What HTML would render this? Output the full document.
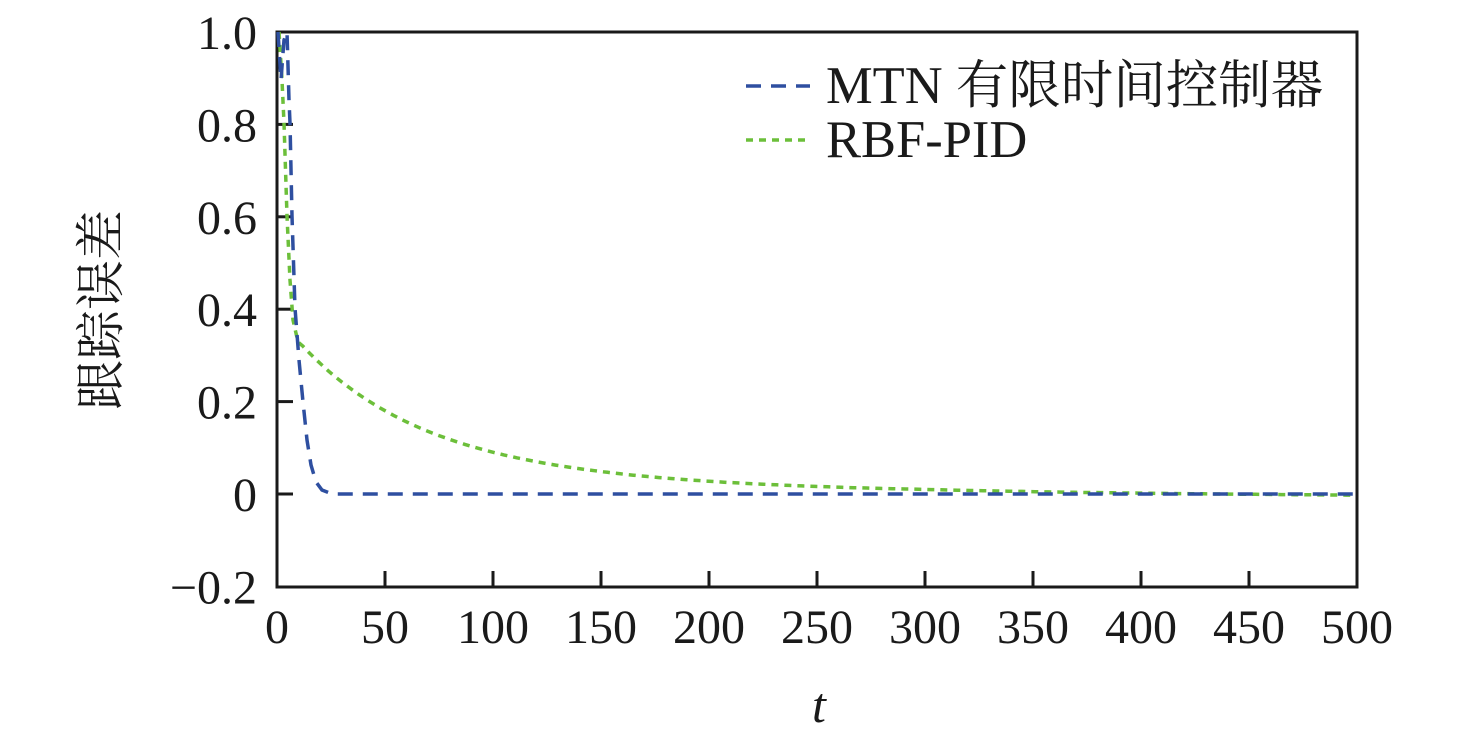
<!DOCTYPE html>
<html><head><meta charset="utf-8"><style>
html,body{margin:0;padding:0;background:#fff;}
svg{display:block;}
text{font-family:"Liberation Serif","Noto Serif CJK SC",serif;fill:#1a1a1a;}
</style></head><body>
<svg id="s" width="1476" height="736" viewBox="0 0 1476 736">
<rect x="277" y="32" width="1080" height="555" fill="none" stroke="#1a1a1a" stroke-width="3"/>
<g stroke="#1a1a1a" stroke-width="3" id="ticks"></g>
<g font-size="48" id="labels"></g>
<path id="g" fill="none" stroke="#6cbf3a" stroke-width="3.5" stroke-dasharray="7,6"/>
<path id="b" fill="none" stroke="#2e4fa0" stroke-width="3.5" stroke-dasharray="15,10"/>
<line x1="746" y1="86" x2="810" y2="86" stroke="#2e4fa0" stroke-width="3.5" stroke-dasharray="15,10"/>
<line x1="746" y1="140" x2="810" y2="140" stroke="#6cbf3a" stroke-width="3.5" stroke-dasharray="7,6"/>
<text x="826" y="103" font-size="52.5">MTN 有限时间控制器</text>
<text x="826" y="157" font-size="52.5">RBF-PID</text>
<text transform="translate(118,310) rotate(-90)" font-size="50" text-anchor="middle">跟踪误差</text>
<text x="812" y="722" font-size="50" font-style="italic">t</text>
</svg>
<script>
var X=t=>277+t*2.16, Y=v=>494-v*462;
var tk=document.getElementById('ticks'),lb=document.getElementById('labels'),h='',l='';
for(var i=0;i<=10;i++){var x=X(i*50);h+=`<line x1="${x}" y1="587" x2="${x}" y2="${i==0||i==10?587:571}"/>`;l+=`<text x="${x}" y="643" text-anchor="middle">${i*50}</text>`;}
var yl=['−0.2','0','0.2','0.4','0.6','0.8','1.0'];
for(var j=0;j<7;j++){var v=-0.2+j*0.2,y=Y(v);if(j>0&&j<6)h+=`<line x1="277" y1="${y}" x2="293" y2="${y}"/>`;l+=`<text x="257" y="${y+17}" text-anchor="end">${yl[j]}</text>`;}
tk.innerHTML=h;lb.innerHTML=l;
var bp=[[278,32],[281,80],[284,40],[287,32],[289,100],[290,123],[292,216],[295,308],[299,360],[303,402],[307,440],[311,465],[316,482],[322,490],[332,494],[1357,494]];
document.getElementById('b').setAttribute('d','M'+bp.map(p=>p.join(',')).join(' L'));
var gp=[[279,32],[282,80],[284,123],[287,216],[290,280],[293,320],[298,342]];
for(var t=12;t<=500;t+=3){var v=0.2*Math.exp(-(t-10)/50)+0.13*Math.exp(-(t-10)/110)-0.004*Math.min(1,Math.max(0,(t-300)/200));gp.push([X(t),Y(v)]);}
document.getElementById('g').setAttribute('d','M'+gp.map(p=>p[0].toFixed(1)+','+p[1].toFixed(1)).join(' L'));
</script>
</body></html>
